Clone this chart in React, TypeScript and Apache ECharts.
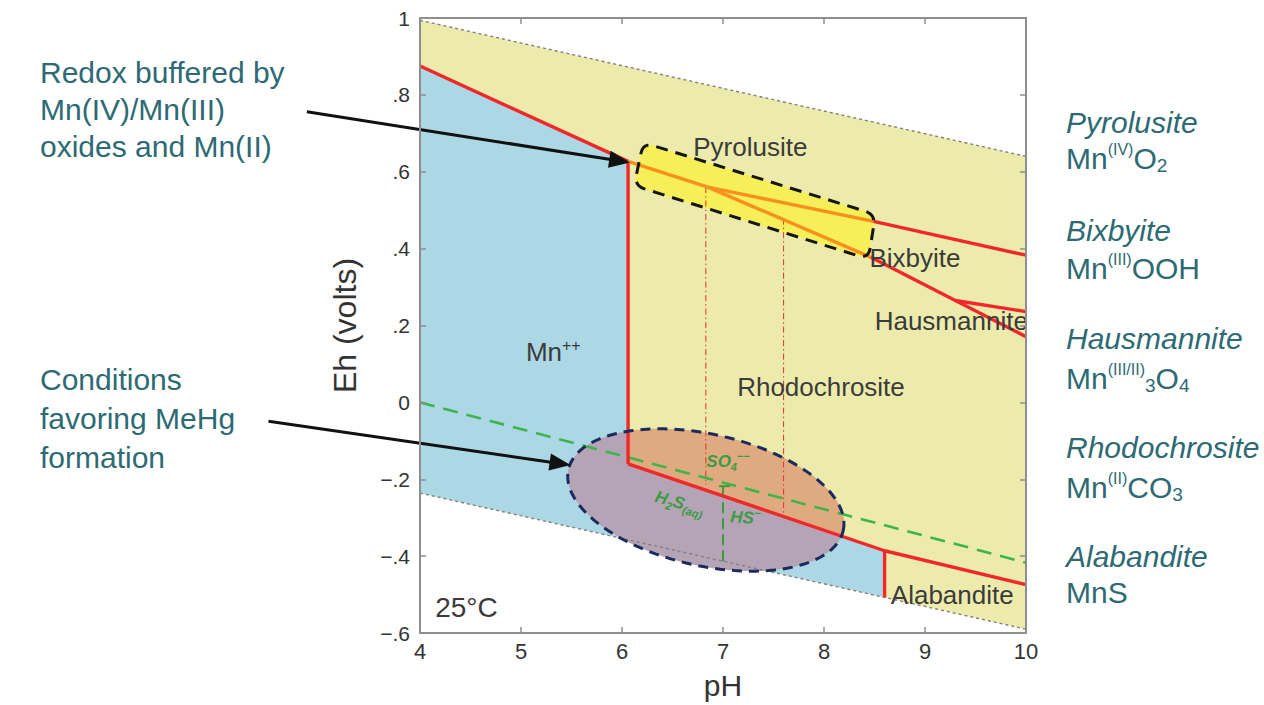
import React, { useEffect, useRef } from 'react';
import * as echarts from 'echarts';

const FONT = '"Liberation Sans", Arial, Helvetica, sans-serif';
const TEAL = '#2d6a74';
const INK = '#3b3b3b';

// ---- axes ----
const xTickLabels = ['4', '5', '6', '7', '8', '9', '10'];
const yTickLabels = ['\u2212.6', '\u2212.4', '\u2212.2', '0', '.2', '.4', '.6', '.8', '1'];

// ---- water stability limits (pH, Eh) ----
const upperWater = [[4, 0.994], [10, 0.64]];
const lowerWater = [[4, -0.236], [10, -0.59]];

// ---- stability fields (pH, Eh) ----
const waterField = [[4, 0.994], [10, 0.64], [10, -0.59], [4, -0.236]];
const mnField = [[4, 0.875], [6.06, 0.627], [6.06, -0.16], [8.6, -0.386], [8.6, -0.507], [4, -0.236]];
const solidSide = [[6.06, 1.2], [6.06, -0.16], [8.6, -0.386], [10, -0.474], [10, 1.2]];

// ---- boundaries (pH, Eh) ----
const redBoundaries = [
  [[4, 0.875], [6.06, 0.627]],
  [[6.06, 0.627], [6.06, -0.16]],
  [[6.06, -0.16], [8.6, -0.386], [10, -0.474]],
  [[8.6, -0.386], [8.6, -0.507]],
  [[8.49, 0.471], [10, 0.383]],
  [[8.46, 0.378], [10, 0.171]],
  [[9.3, 0.265], [10, 0.236]],
];
const orangeBoundaries = [
  [[6.06, 0.627], [6.85, 0.56], [8.49, 0.471]],
  [[6.85, 0.56], [8.46, 0.378]],
];
const sulfateBoundary = [[4, 0], [10, -0.417]];
const sulfideBoundary = [[7, -0.218], [7, -0.417]];
const sulfideTick = [[6.96, -0.218], [7.07, -0.218]];
const pHMarkers = [
  [[6.83, 0.56], [6.83, -0.215]],
  [[7.6, 0.478], [7.6, -0.296]],
];

// ---- highlighted zones ----
const bufferBox = [[6.21, 0.676], [8.51, 0.489], [8.44, 0.373], [6.12, 0.564]];
const ellipseCenter = [6.83, -0.254];
const ellipseMajorEnd = [8.19, -0.334];
const ellipseMinorEnd = [6.975, -0.087];

// ---- labels ----
const fieldLabelText = ['Pyrolusite', 'Bixbyite', 'Hausmannite', 'Rhodochrosite', 'Mn{sp|++}', 'Alabandite', '25°C'];
const fieldLabelPH = [7.27, 8.9, 9.26, 7.97, 5.32, 9.27, 4.46];
const fieldLabelEh = [0.665, 0.375, 0.212, 0.041, 0.13, -0.502, -0.533];

const sulfurLabelText = ['SO{sb|4}{sp|\u2212\u2212}', 'H{sb|2}S{sb|(aq)}', 'HS{sp|\u2212}'];
const sulfurLabelPH = [7.05, 6.57, 7.22];
const sulfurLabelEh = [-0.153, -0.262, -0.3];
const sulfurLabelRot = [0, -0.28, -0.06];

const arrowFrom = [[2.88, 0.756], [2.5, -0.049]];
const arrowTo = [[6.08, 0.624], [5.49, -0.163]];

const mineralNames = ['Pyrolusite', 'Bixbyite', 'Hausmannite', 'Rhodochrosite', 'Alabandite'];
const mineralFormulas = [
  'Mn{sp|(IV)}O{sb|2}',
  'Mn{sp|(III)}OOH',
  'Mn{sp|(III/II)}{sb|3}O{sb|4}',
  'Mn{sp|(II)}CO{sb|3}',
  'MnS',
];
const noteTop = 'Redox buffered by\nMn(IV)/Mn(III)\noxides and Mn(II)';
const noteBottom = 'Conditions\nfavoring MeHg\nformation';

// ---- helpers ----
function clipPolygon(subject: number[][], clip: number[][]) {
  let area = 0;
  for (let i = 0; i < clip.length; i++) {
    const j = (i + 1) % clip.length;
    area += clip[i][0] * clip[j][1] - clip[j][0] * clip[i][1];
  }
  const sign = area > 0 ? 1 : -1;
  let output = subject;
  for (let i = 0; i < clip.length; i++) {
    const a = clip[i];
    const b = clip[(i + 1) % clip.length];
    const ex = b[0] - a[0];
    const ey = b[1] - a[1];
    const inside = (p: number[]) => sign * (ex * (p[1] - a[1]) - ey * (p[0] - a[0])) >= 0;
    const intersect = (p: number[], q: number[]) => {
      const dx = q[0] - p[0];
      const dy = q[1] - p[1];
      const t = -(ex * (p[1] - a[1]) - ey * (p[0] - a[0])) / (ex * dy - ey * dx);
      return [p[0] + t * dx, p[1] + t * dy];
    };
    const input = output;
    output = [];
    for (let k = 0; k < input.length; k++) {
      const cur = input[k];
      const prev = input[(k + input.length - 1) % input.length];
      const ci = inside(cur);
      const pi = inside(prev);
      if (ci) {
        if (!pi) output.push(intersect(prev, cur));
        output.push(cur);
      } else if (pi) {
        output.push(intersect(prev, cur));
      }
    }
    if (!output.length) break;
  }
  return output;
}

function roundCorners(pts: number[][], r: number) {
  const out: number[][] = [];
  const n = pts.length;
  for (let i = 0; i < n; i++) {
    const prev = pts[(i + n - 1) % n];
    const cur = pts[i];
    const next = pts[(i + 1) % n];
    const l1 = Math.hypot(prev[0] - cur[0], prev[1] - cur[1]);
    const l2 = Math.hypot(next[0] - cur[0], next[1] - cur[1]);
    const p1 = [cur[0] + ((prev[0] - cur[0]) / l1) * r, cur[1] + ((prev[1] - cur[1]) / l1) * r];
    const p2 = [cur[0] + ((next[0] - cur[0]) / l2) * r, cur[1] + ((next[1] - cur[1]) / l2) * r];
    for (let s = 0; s <= 6; s++) {
      const t = s / 6;
      out.push([
        (1 - t) * (1 - t) * p1[0] + 2 * (1 - t) * t * cur[0] + t * t * p2[0],
        (1 - t) * (1 - t) * p1[1] + 2 * (1 - t) * t * cur[1] + t * t * p2[1],
      ]);
    }
  }
  return out;
}

function ellipsePixels(api: any) {
  const c = api.coord(ellipseCenter);
  const r = api.coord(ellipseMajorEnd);
  const t = api.coord(ellipseMinorEnd);
  const pts: number[][] = [];
  const N = 120;
  for (let i = 0; i < N; i++) {
    const a = (i / N) * Math.PI * 2;
    pts.push([
      c[0] + Math.cos(a) * (r[0] - c[0]) + Math.sin(a) * (t[0] - c[0]),
      c[1] + Math.cos(a) * (r[1] - c[1]) + Math.sin(a) * (t[1] - c[1]),
    ]);
  }
  return pts;
}

function polySeries(points: number[][], style: any, z: number) {
  return {
    type: 'custom',
    z,
    silent: true,
    clip: true,
    data: [points[0]],
    renderItem: (_p: any, api: any) => ({
      type: 'polygon',
      shape: { points: points.map((p) => api.coord(p)) },
      style,
    }),
  };
}

function lineSeries(points: number[][], color: string, width: number, type: any, z: number) {
  return {
    type: 'line',
    data: points,
    symbol: 'none',
    silent: true,
    z,
    lineStyle: { color, width, type, cap: 'butt' },
  };
}

export default function App() {
  const ref = useRef<HTMLDivElement>(null);

  useEffect(() => {
    if (!ref.current) return;
    const chart = echarts.init(ref.current, null, { renderer: 'svg' });

    const axisLine = { show: true, onZero: false, lineStyle: { color: '#8e8e8e', width: 2 } };
    const axisTick = { show: true, inside: true, length: 6, lineStyle: { color: '#8e8e8e', width: 1.5 } };

    const series: any[] = [];
    series.push(polySeries(waterField, { fill: '#ecebab' }, 1));
    series.push(polySeries(mnField, { fill: '#acd8e6' }, 1));
    series.push({
      type: 'custom',
      z: 2,
      silent: true,
      data: [bufferBox[0]],
      renderItem: (_p: any, api: any) => ({
        type: 'polygon',
        shape: { points: roundCorners(bufferBox.map((p) => api.coord(p)), 11) },
        style: { fill: '#f6ef57' },
      }),
    });
    series.push({
      type: 'custom',
      z: 2,
      silent: true,
      data: [ellipseCenter],
      renderItem: (_p: any, api: any) => {
        const pts = ellipsePixels(api);
        const upper = clipPolygon(pts, solidSide.map((p) => api.coord(p)));
        return {
          type: 'group',
          children: [
            { type: 'polygon', shape: { points: pts }, style: { fill: '#b5a4b6' } },
            { type: 'polygon', shape: { points: upper }, style: { fill: '#e0aa80' } },
          ],
        };
      },
    });

    series.push(lineSeries(upperWater, '#808080', 1.4, [3, 3], 3));
    series.push(lineSeries(lowerWater, '#808080', 1.4, [3, 3], 3));
    pHMarkers.forEach((l) => series.push(lineSeries(l, '#e0302f', 1, [6, 3, 1.5, 3], 3)));
    series.push(lineSeries(sulfateBoundary, '#3db54a', 2.6, [15, 9], 3));
    series.push(lineSeries(sulfideBoundary, '#3f9a3f', 2, [11, 5], 3));
    series.push(lineSeries(sulfideTick, '#3f9a3f', 2, 'solid', 3));
    redBoundaries.forEach((l) => series.push(lineSeries(l, '#f0282a', 3.4, 'solid', 4)));
    orangeBoundaries.forEach((l) => series.push(lineSeries(l, '#f7901e', 3.4, 'solid', 4)));

    series.push({
      type: 'custom',
      z: 5,
      silent: true,
      data: [bufferBox[0]],
      renderItem: (_p: any, api: any) => ({
        type: 'polygon',
        shape: { points: roundCorners(bufferBox.map((p) => api.coord(p)), 11) },
        style: { fill: 'none', stroke: '#151515', lineWidth: 3, lineDash: [12, 8] },
      }),
    });
    series.push({
      type: 'custom',
      z: 5,
      silent: true,
      data: [ellipseCenter],
      renderItem: (_p: any, api: any) => ({
        type: 'polygon',
        shape: { points: ellipsePixels(api) },
        style: { fill: 'none', stroke: '#1c2a5c', lineWidth: 3, lineDash: [10, 7] },
      }),
    });

    series.push({
      type: 'custom',
      z: 6,
      silent: true,
      data: fieldLabelText.map((_, i) => [fieldLabelPH[i], fieldLabelEh[i]]),
      renderItem: (params: any, api: any) => {
        const p = api.coord([api.value(0), api.value(1)]);
        const i = params.dataIndex;
        const is25 = fieldLabelText[i] === '25°C';
        return {
          type: 'text',
          x: p[0],
          y: p[1],
          style: {
            text: fieldLabelText[i],
            fill: INK,
            fontFamily: FONT,
            fontSize: is25 ? 28 : 26,
            lineHeight: 30,
            align: 'center',
            verticalAlign: 'middle',
            textAlign: 'center',
            textVerticalAlign: 'middle',
            rich: {
              sp: { fontSize: 16, lineHeight: 18, fill: INK, fontFamily: FONT, verticalAlign: 'top' },
            },
          },
        };
      },
    });

    series.push({
      type: 'custom',
      z: 6,
      silent: true,
      data: sulfurLabelText.map((_, i) => [sulfurLabelPH[i], sulfurLabelEh[i]]),
      renderItem: (params: any, api: any) => {
        const p = api.coord([api.value(0), api.value(1)]);
        const i = params.dataIndex;
        const base = { fill: '#3d9a45', fontFamily: FONT, fontStyle: 'italic', fontWeight: 'bold' };
        return {
          type: 'text',
          x: p[0],
          y: p[1],
          rotation: sulfurLabelRot[i],
          style: {
            ...base,
            text: sulfurLabelText[i],
            fontSize: 17,
            lineHeight: 22,
            align: 'center',
            verticalAlign: 'middle',
            textAlign: 'center',
            textVerticalAlign: 'middle',
            rich: {
              sb: { ...base, fontSize: 11, lineHeight: 12, verticalAlign: 'bottom' },
              sp: { ...base, fontSize: 11, lineHeight: 12, verticalAlign: 'top' },
            },
          },
        };
      },
    });

    series.push({
      type: 'custom',
      z: 7,
      silent: true,
      clip: false,
      dimensions: ['x1', 'y1', 'x2', 'y2'],
      encode: { x: [0, 2], y: [1, 3] },
      data: arrowFrom.map((f, i) => [f[0], f[1], arrowTo[i][0], arrowTo[i][1]]),
      renderItem: (_p: any, api: any) => {
        const a = api.coord([api.value(0), api.value(1)]);
        const b = api.coord([api.value(2), api.value(3)]);
        const dx = b[0] - a[0];
        const dy = b[1] - a[1];
        const L = Math.hypot(dx, dy);
        const ux = dx / L;
        const uy = dy / L;
        const hl = 21;
        const hw = 8.5;
        const base = [b[0] - ux * hl, b[1] - uy * hl];
        return {
          type: 'group',
          children: [
            {
              type: 'line',
              shape: { x1: a[0], y1: a[1], x2: base[0] + ux * 3, y2: base[1] + uy * 3 },
              style: { stroke: '#111', lineWidth: 3 },
            },
            {
              type: 'polygon',
              shape: {
                points: [b, [base[0] - uy * hw, base[1] + ux * hw], [base[0] + uy * hw, base[1] - ux * hw]],
              },
              style: { fill: '#111' },
            },
          ],
        };
      },
    });

    const nameY = [122, 230, 338, 447, 556];
    const formulaY = [158, 268, 378, 487, 592];
    const graphic: any[] = [
      {
        type: 'text',
        left: 40,
        top: 54,
        silent: true,
        style: { text: noteTop, fill: TEAL, fontFamily: FONT, fontSize: 30, lineHeight: 37 },
      },
      {
        type: 'text',
        left: 40,
        top: 360,
        silent: true,
        style: { text: noteBottom, fill: TEAL, fontFamily: FONT, fontSize: 30, lineHeight: 39 },
      },
    ];
    mineralNames.forEach((n, i) => {
      graphic.push({
        type: 'text',
        x: 1066,
        y: nameY[i],
        silent: true,
        style: {
          text: n,
          fill: TEAL,
          fontFamily: FONT,
          fontStyle: 'italic',
          fontSize: 30,
          align: 'left',
          verticalAlign: 'middle',
          textAlign: 'left',
          textVerticalAlign: 'middle',
        },
      });
      graphic.push({
        type: 'text',
        x: 1066,
        y: formulaY[i],
        silent: true,
        style: {
          text: mineralFormulas[i],
          fill: TEAL,
          fontFamily: FONT,
          fontSize: 30,
          lineHeight: 33,
          align: 'left',
          verticalAlign: 'middle',
          textAlign: 'left',
          textVerticalAlign: 'middle',
          rich: {
            sp: { fontSize: 16, lineHeight: 19, fill: TEAL, fontFamily: FONT, verticalAlign: 'top' },
            sb: { fontSize: 19, lineHeight: 19, fill: TEAL, fontFamily: FONT, verticalAlign: 'bottom' },
          },
        },
      });
    });

    chart.setOption({
      animation: false,
      backgroundColor: '#ffffff',
      grid: { left: 420, top: 18, width: 606, height: 618, show: false },
      xAxis: [
        {
          type: 'value',
          min: 4,
          max: 10,
          interval: 1,
          position: 'bottom',
          z: 10,
          axisLine,
          axisTick,
          splitLine: { show: false },
          axisLabel: {
            margin: 7,
            color: '#333',
            fontFamily: FONT,
            fontSize: 22,
            formatter: (v: number) => xTickLabels[Math.round(v - 4)],
          },
          name: 'pH',
          nameLocation: 'middle',
          nameGap: 37,
          nameTextStyle: { fontSize: 30, color: '#333', fontFamily: FONT },
        },
        {
          type: 'value',
          min: 4,
          max: 10,
          interval: 1,
          position: 'top',
          z: 10,
          axisLine,
          axisTick,
          splitLine: { show: false },
          axisLabel: { show: false },
        },
      ],
      yAxis: [
        {
          type: 'value',
          min: -0.6,
          max: 1,
          interval: 0.2,
          position: 'left',
          z: 10,
          axisLine,
          axisTick,
          splitLine: { show: false },
          axisLabel: {
            margin: 10,
            color: '#333',
            fontFamily: FONT,
            fontSize: 21,
            formatter: (v: number) => yTickLabels[Math.round((v + 0.6) / 0.2)],
          },
          name: 'Eh (volts)',
          nameLocation: 'middle',
          nameGap: 59,
          nameTextStyle: { fontSize: 32, color: '#333', fontFamily: FONT },
        },
        {
          type: 'value',
          min: -0.6,
          max: 1,
          interval: 0.2,
          position: 'right',
          z: 10,
          axisLine,
          axisTick,
          splitLine: { show: false },
          axisLabel: { show: false },
        },
      ],
      series,
      graphic,
    });

    return () => chart.dispose();
  }, []);

  return <div ref={ref} style={{ position: 'absolute', left: 0, top: 0, width: 1264, height: 705 }} />;
}
